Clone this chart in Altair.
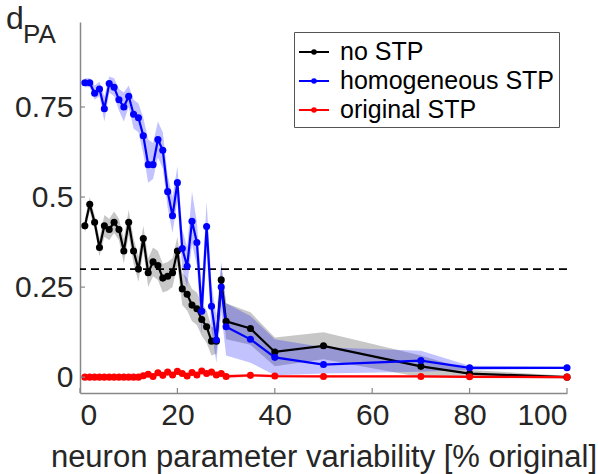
import altair as alt
import pandas as pd

x_vals = list(range(1, 31)) + [35, 40, 50, 70, 80, 100]

series_names = ["no STP", "homogeneous STP", "original STP"]
series_colors = ["#000000", "#0000ff", "#ff0000"]

no_stp = [0.42, 0.48, 0.43, 0.36, 0.42, 0.41, 0.43, 0.41, 0.35, 0.43,
          0.35, 0.30, 0.385, 0.29, 0.32, 0.31, 0.275, 0.28, 0.29, 0.35,
          0.245, 0.23, 0.20, 0.19, 0.16, 0.14, 0.10, 0.10, 0.27, 0.155,
          0.135, 0.07, 0.087, 0.03, 0.01, 0.0]
no_stp_lo = [0.40, 0.46, 0.41, 0.335, 0.39, 0.38, 0.40, 0.38, 0.315, 0.395,
             0.315, 0.265, 0.35, 0.25, 0.28, 0.27, 0.235, 0.24, 0.25, 0.31,
             0.20, 0.185, 0.155, 0.145, 0.115, 0.095, 0.06, 0.065, 0.23, 0.105,
             0.09, 0.03, 0.05, 0.0, 0.0, -0.004]
no_stp_hi = [0.44, 0.50, 0.45, 0.385, 0.45, 0.44, 0.46, 0.44, 0.385, 0.465,
             0.385, 0.335, 0.42, 0.33, 0.36, 0.35, 0.315, 0.32, 0.33, 0.39,
             0.29, 0.275, 0.245, 0.235, 0.205, 0.185, 0.14, 0.135, 0.31, 0.205,
             0.18, 0.11, 0.125, 0.06, 0.02, 0.004]

homog = [0.8175, 0.8175, 0.788, 0.80, 0.745, 0.815, 0.805, 0.77, 0.75, 0.78,
         0.73, 0.72, 0.67, 0.59, 0.59, 0.66, 0.63, 0.515, 0.448, 0.54,
         0.357, 0.308, 0.433, 0.374, 0.183, 0.418, 0.197, 0.103, 0.25, 0.14,
         0.105, 0.055, 0.035, 0.046, 0.026, 0.026]
homog_lo = [0.805, 0.805, 0.77, 0.78, 0.71, 0.79, 0.78, 0.74, 0.71, 0.75,
            0.69, 0.68, 0.62, 0.54, 0.55, 0.61, 0.58, 0.47, 0.40, 0.49,
            0.30, 0.25, 0.37, 0.31, 0.12, 0.35, 0.13, 0.04, 0.18, 0.06,
            0.04, 0.005, 0.01, 0.015, 0.02, 0.023]
homog_hi = [0.83, 0.83, 0.81, 0.82, 0.78, 0.835, 0.83, 0.80, 0.79, 0.81,
            0.77, 0.76, 0.72, 0.66, 0.65, 0.71, 0.68, 0.56, 0.50, 0.585,
            0.41, 0.36, 0.515, 0.43, 0.25, 0.487, 0.26, 0.17, 0.32, 0.205,
            0.17, 0.105, 0.083, 0.073, 0.032, 0.029]

orig = [0.0, 0.0, 0.0, 0.0, 0.0, 0.0, 0.0, 0.0, 0.0, 0.0,
        0.0, 0.0, 0.004, 0.008, 0.002, 0.012, 0.005, 0.014, 0.006, 0.016,
        0.010, 0.003, 0.013, 0.006, 0.017, 0.010, 0.014, 0.006, 0.010, 0.002,
        0.005, 0.003, 0.002, 0.002, 0.001, 0.0]
orig_spread = [0.003] * 12 + [0.006] * 18 + [0.004] * 6

rows = []
for name, ys, lo, hi in [
    ("no STP", no_stp, no_stp_lo, no_stp_hi),
    ("homogeneous STP", homog, homog_lo, homog_hi),
    ("original STP", orig, [v - s for v, s in zip(orig, orig_spread)],
     [v + s for v, s in zip(orig, orig_spread)]),
]:
    for i, xv in enumerate(x_vals):
        rows.append({"series": name, "x": xv, "y": ys[i], "lo": lo[i], "hi": hi[i]})
df = pd.DataFrame(rows)

x_ticks = [0, 20, 40, 60, 80, 100]
y_ticks = [0, 0.25, 0.5, 0.75]
threshold = [0.3]

FONT = "Liberation Sans"
xscale = alt.Scale(domain=[0, 100], nice=False, zero=False)
yscale = alt.Scale(domain=[-0.044, 0.986], nice=False, zero=False)

xaxis = alt.Axis(values=x_ticks, ticks=False, grid=False, labelFontSize=30,
                 labelFont=FONT, labelColor="#262626", labelPadding=7,
                 title="neuron parameter variability [% original]",
                 titleFontSize=31, titleFont=FONT, titleFontWeight="normal",
                 titleColor="#262626", titlePadding=12, domainColor="#888888",
                 domainWidth=1.5)
yaxis = alt.Axis(values=y_ticks, ticks=False, grid=False, labelFontSize=30,
                 labelFont=FONT, labelColor="#262626", labelPadding=7,
                 labelExpr="datum.value", title=None, domainColor="#888888",
                 domainWidth=1.5)

color_scale = alt.Scale(domain=series_names, range=series_colors)

bands = []
for name, col, op in zip(series_names, series_colors, [0.22, 0.24, 0.2]):
    bands.append(
        alt.Chart(df).transform_filter(alt.datum.series == name)
        .mark_area(opacity=op, color=col).encode(
            x=alt.X("x:Q", scale=xscale, axis=xaxis),
            y=alt.Y("lo:Q", scale=yscale, axis=yaxis),
            y2="hi:Q",
        )
    )

dash = alt.Chart(pd.DataFrame({"t": threshold})).mark_rule(
    color="black", strokeDash=[8, 5], strokeWidth=1.8
).encode(y=alt.Y("t:Q", scale=yscale))

legend_symbol = "M-1,0L1,0M-0.12,0A0.12,0.12,0,1,1,0.12,0A0.12,0.12,0,1,1,-0.12,0Z"

legend = alt.Legend(
    orient="none", legendX=214, legendY=10, title=None,
    labelFontSize=25, labelFont=FONT, labelColor="black", labelLimit=400,
    strokeColor="#555555", fillColor="white", padding=4,
    symbolType=legend_symbol, symbolSize=900, symbolStrokeWidth=2,
    labelOffset=10, rowPadding=0)

lines = alt.Chart(df).mark_line(strokeWidth=2.2).encode(
    x=alt.X("x:Q", scale=xscale),
    y=alt.Y("y:Q", scale=yscale),
    color=alt.Color("series:N", scale=color_scale, legend=legend),
)

points = alt.Chart(df).mark_circle(size=50, opacity=1).encode(
    x=alt.X("x:Q", scale=xscale),
    y=alt.Y("y:Q", scale=yscale),
    color=alt.Color("series:N", scale=color_scale, legend=legend),
)

ytick_layer = alt.Chart(pd.DataFrame({"v": y_ticks})).mark_rule(
    color="#888888", strokeWidth=1.2
).encode(y=alt.Y("v:Q", scale=yscale), x=alt.value(0), x2=alt.value(5))

xtick_layer = alt.Chart(pd.DataFrame({"v": x_ticks})).mark_rule(
    color="#888888", strokeWidth=1.2
).encode(x=alt.X("v:Q", scale=xscale), y=alt.value(371), y2=alt.value(366))

d_text = alt.Chart(pd.DataFrame({"t": ["d"]})).mark_text(
    font=FONT, fontSize=32, align="left", baseline="alphabetic", color="#262626"
).encode(text="t:N", x=alt.value(-74), y=alt.value(7))

pa_text = alt.Chart(pd.DataFrame({"t": ["PA"]})).mark_text(
    font=FONT, fontSize=26, align="left", baseline="alphabetic", color="#262626"
).encode(text="t:N", x=alt.value(-57), y=alt.value(21))

chart = alt.layer(
    *bands, dash, lines, points, ytick_layer, xtick_layer, d_text, pa_text
).properties(
    width=487, height=371,
    autosize=alt.AutoSizeParams(type="none"),
    padding={"left": 80, "top": 22, "right": 31, "bottom": 81},
).configure_view(stroke=None)

chart.save("out.html", embed_options={"renderer": "svg", "actions": False})
